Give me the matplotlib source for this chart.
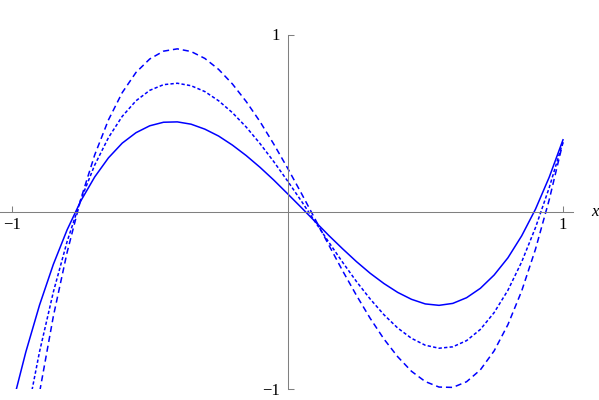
import matplotlib
matplotlib.use("Agg")
import matplotlib.pyplot as plt

# sample positions along x and the three curves
x = [-1.00, -0.95, -0.90, -0.85, -0.80, -0.75, -0.70, -0.65, -0.60, -0.55, -0.50,
     -0.45, -0.40, -0.35, -0.30, -0.25, -0.20, -0.15, -0.10, -0.05, 0.00,
     0.05, 0.10, 0.15, 0.20, 0.25, 0.30, 0.35, 0.40, 0.45, 0.50,
     0.55, 0.60, 0.65, 0.70, 0.75, 0.80, 0.85, 0.90, 0.95, 1.00]

solid = [-1.097, -0.792, -0.526, -0.297, -0.102, 0.062, 0.196, 0.304, 0.387, 0.446, 0.485,
         0.505, 0.507, 0.494, 0.466, 0.427, 0.376, 0.317, 0.251, 0.179, 0.102,
         0.024, -0.055, -0.134, -0.209, -0.281, -0.347, -0.405, -0.455, -0.494, -0.520,
         -0.528, -0.517, -0.485, -0.432, -0.357, -0.260, -0.136, 0.014, 0.195, 0.406]

dotted = [-1.646, -1.185, -0.789, -0.453, -0.168, 0.069, 0.263, 0.418, 0.538, 0.626, 0.685,
          0.717, 0.725, 0.711, 0.678, 0.626, 0.559, 0.478, 0.385, 0.283, 0.174,
          0.061, -0.056, -0.172, -0.285, -0.393, -0.492, -0.581, -0.656, -0.714, -0.753,
          -0.770, -0.762, -0.727, -0.664, -0.569, -0.443, -0.283, -0.090, 0.136, 0.395]

dashed = [-2.107, -1.521, -1.019, -0.590, -0.229, 0.073, 0.320, 0.518, 0.672, 0.786, 0.862,
          0.906, 0.919, 0.904, 0.865, 0.803, 0.721, 0.622, 0.509, 0.382, 0.247,
          0.105, -0.041, -0.188, -0.333, -0.471, -0.601, -0.718, -0.818, -0.900, -0.958,
          -0.989, -0.991, -0.959, -0.892, -0.785, -0.637, -0.447, -0.212, 0.068, 0.392]

tick_pos = [-1, 1]
tick_labels = ["\u22121", "1"]

plt.rcParams["lines.scale_dashes"] = False
serif = "Liberation Serif"
blue = "#0000ff"
gray = "#808080"

fig = plt.figure(figsize=(5.99, 4.0), dpi=100)
ax = fig.add_axes([0, 11 / 400, 573 / 599, 354.5 / 400])

ax.plot(x, solid, color=blue, lw=1.1)
ax.plot(x, dotted, color=blue, lw=1.1, dashes=(2.4, 1.6))
ax.plot(x, dashed, color=blue, lw=1.1, dashes=(4.4, 2.8))

ax.set_xlim(-1.0436, 1.0363)
ax.set_ylim(-1, 1)

# Mathematica-style axes through the origin
for side in ["top", "right"]:
    ax.spines[side].set_visible(False)
ax.spines["left"].set_position(("data", 0))
ax.spines["bottom"].set_position(("data", 0))
for side in ["left", "bottom"]:
    ax.spines[side].set_color(gray)
    ax.spines[side].set_linewidth(0.75)

ax.set_xticks(tick_pos, tick_labels)
ax.set_yticks(tick_pos, tick_labels)
ax.tick_params(direction="in", length=4.5, width=0.75, color=gray, labelsize=12)
ax.tick_params(axis="x", pad=4)
ax.tick_params(axis="y", pad=5.5)
for lab in ax.get_xticklabels() + ax.get_yticklabels():
    lab.set_family(serif)

ax.text(1.114, 0, "x", fontsize=12, family=serif, style="italic",
        ha="center", va="center", clip_on=False)

fig.savefig("out.png")
